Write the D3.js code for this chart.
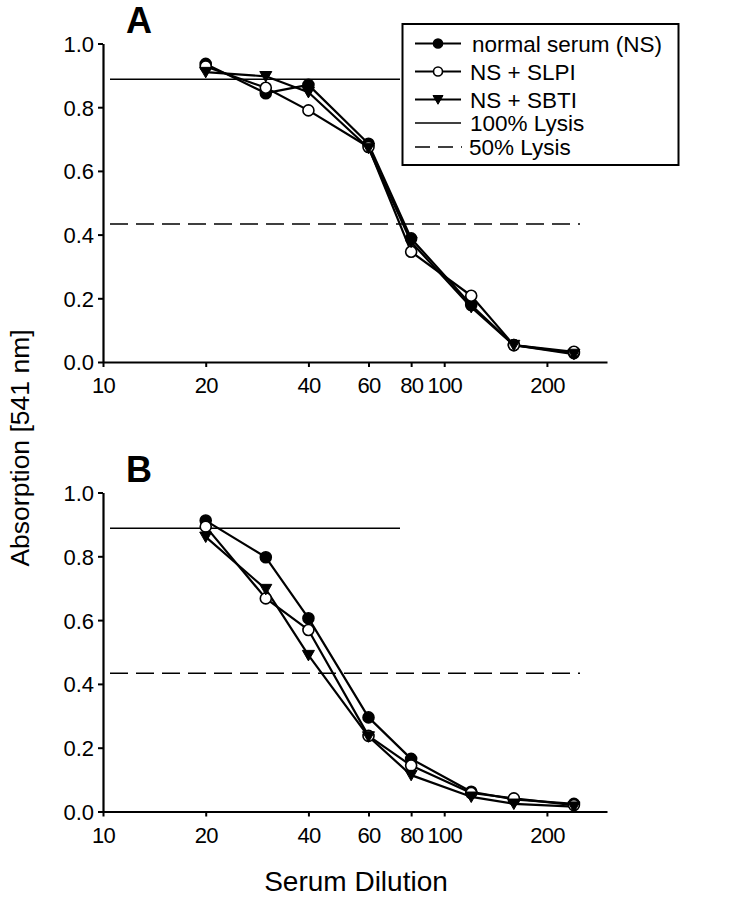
<!DOCTYPE html>
<html><head><meta charset="utf-8">
<script src="https://cdn.jsdelivr.net/npm/d3@7"></script>
<style>body{margin:0;background:#fff}svg{display:block}text{font-family:"Liberation Sans",Arial,sans-serif;fill:#000}</style>
</head><body><svg id="c" width="734" height="900"></svg>
<script>
const dilutions = [20, 30, 40, 60, 80, 120, 160, 240];
const xTicks = [10, 20, 40, 60, 80, 100, 200];
const yTicks = [0, 0.2, 0.4, 0.6, 0.8, 1.0];
const seriesNames = ["normal serum (NS)", "NS + SLPI", "NS + SBTI"];
const markers = ["filled", "open", "triangle"];
const lysis100 = 0.888;
const lysis50 = 0.433;
const panelA_NS   = [0.936, 0.844, 0.870, 0.685, 0.388, 0.179, 0.053, 0.028];
const panelA_SLPI = [0.928, 0.861, 0.790, 0.675, 0.346, 0.208, 0.053, 0.032];
const panelA_SBTI = [0.910, 0.897, 0.847, 0.672, 0.377, 0.172, 0.053, 0.025];
const panelB_NS   = [0.912, 0.797, 0.606, 0.295, 0.165, 0.062, 0.038, 0.024];
const panelB_SLPI = [0.893, 0.668, 0.569, 0.237, 0.144, 0.058, 0.041, 0.020];
const panelB_SBTI = [0.861, 0.697, 0.490, 0.235, 0.114, 0.046, 0.024, 0.015];
const panels = [
  {label: "A", series: [panelA_NS, panelA_SLPI, panelA_SBTI], y0: 362, y1: 43.5, legend: true},
  {label: "B", series: [panelB_NS, panelB_SLPI, panelB_SBTI], y0: 811.5, y1: 492.5, legend: false}
];

const svg = d3.select("#c");
const x = d3.scaleLog().domain([10, 300]).range([103, 607]);
const fmt = d3.format(".1f");
const triPath = r => `M${-r},${-r*0.8}L${r},${-r*0.8}L0,${r*0.95}Z`;

function drawMarker(g, type, cx, cy, r) {
  if (type === "triangle") {
    g.append("path").attr("d", triPath(r+0.5)).attr("transform", `translate(${cx},${cy})`)
      .attr("fill", "#000").attr("stroke", "#000").attr("stroke-width", 1);
  } else {
    g.append("circle").attr("cx", cx).attr("cy", cy).attr("r", r)
      .attr("fill", type === "open" ? "#fff" : "#000").attr("stroke", "#000").attr("stroke-width", 1.6);
  }
}

panels.forEach(p => {
  const y = d3.scaleLinear().domain([0, 1]).range([p.y0, p.y1]);
  const g = svg.append("g");
  g.append("line").attr("x1", 110).attr("x2", 400).attr("y1", y(lysis100)).attr("y2", y(lysis100))
    .attr("stroke", "#000").attr("stroke-width", 1.5);
  g.append("line").attr("x1", 110).attr("x2", 580).attr("y1", y(lysis50)).attr("y2", y(lysis50))
    .attr("stroke", "#000").attr("stroke-width", 1.5).attr("stroke-dasharray", "18,8");
  const xa = g.append("g").attr("transform", `translate(0,${p.y0})`)
    .call(d3.axisBottom(x).tickValues(xTicks).tickFormat(d3.format("d")).tickSize(5).tickSizeOuter(0));
  const ya = g.append("g").attr("transform", `translate(${x(10)},0)`)
    .call(d3.axisLeft(y).tickValues(yTicks).tickFormat(fmt).tickSize(5).tickSizeOuter(0));
  [xa, ya].forEach(a => {
    a.select(".domain").attr("stroke", "#000").attr("stroke-width", 2.2);
    a.selectAll(".tick line").attr("stroke", "#000").attr("stroke-width", 2);
    a.selectAll("text").style("font-size", "22px").attr("fill", "#000");
  });
  xa.selectAll("text").attr("dy", "0").attr("y", 31).style("letter-spacing", "-0.8px");
  ya.selectAll("text").attr("x", -9).attr("dy", "0.36em");
  const line = d3.line().x((d, i) => x(dilutions[i])).y(d => y(d));
  p.series.forEach(vals => {
    g.append("path").datum(vals).attr("d", line).attr("fill", "none")
      .attr("stroke", "#000").attr("stroke-width", 2.2).attr("stroke-linejoin", "round");
  });
  p.series.forEach((vals, si) => {
    vals.forEach((v, i) => drawMarker(g, markers[si], x(dilutions[i]), y(v), 5.5));
  });
  g.append("text").attr("x", 126).attr("y", p.y1 - 11).text(p.label)
    .style("font-size", "36px").style("font-weight", "bold");
  if (p.legend) {
    const lg = g.append("g");
    lg.append("rect").attr("x", 402.5).attr("y", 24).attr("width", 276).attr("height", 141)
      .attr("fill", "#fff").attr("stroke", "#000").attr("stroke-width", 2);
    const rows = [43.5, 71.5, 99.5, 123, 147];
    seriesNames.forEach((n, i) => {
      lg.append("line").attr("x1", 415).attr("x2", 461).attr("y1", rows[i]).attr("y2", rows[i])
        .attr("stroke", "#000").attr("stroke-width", 2.2);
      drawMarker(lg, markers[i], 438, rows[i], 4.5);
      lg.append("text").attr("x", i === 0 ? 472 : 470).attr("y", rows[i]).attr("dy", "0.36em")
        .style("font-size", "22.5px").text(n);
    });
    lg.append("line").attr("x1", 415).attr("x2", 461).attr("y1", rows[3]).attr("y2", rows[3])
      .attr("stroke", "#000").attr("stroke-width", 1.5);
    lg.append("text").attr("x", 470).attr("y", rows[3]).attr("dy", "0.36em").style("font-size", "22.5px").text("100% Lysis");
    lg.append("line").attr("x1", 415).attr("x2", 462).attr("y1", rows[4]).attr("y2", rows[4])
      .attr("stroke", "#000").attr("stroke-width", 1.5).attr("stroke-dasharray", "15,8");
    lg.append("text").attr("x", 469).attr("y", rows[4]).attr("dy", "0.36em").style("font-size", "22.5px").text("50% Lysis");
  }
});

svg.append("text").attr("transform", "translate(29,448) rotate(-90)").attr("text-anchor", "middle")
  .style("font-size", "26.5px").text("Absorption [541 nm]");
svg.append("text").attr("x", 356).attr("y", 891).attr("text-anchor", "middle")
  .style("font-size", "28px").text("Serum Dilution");
</script></body></html>
